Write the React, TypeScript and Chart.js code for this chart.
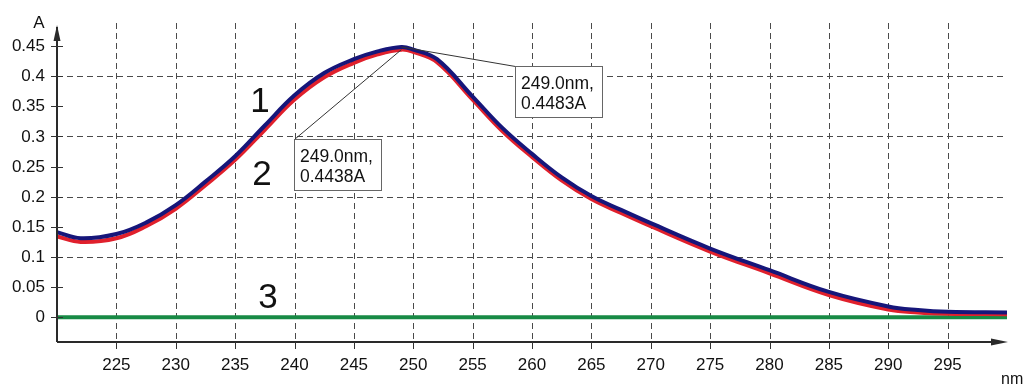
import React, { useEffect, useRef } from "react";
import { Chart, registerables } from "chart.js";

Chart.register(...registerables);

// ---- data ----
const wavelengths = [
  220, 222, 225, 227.5, 230, 232.5, 235, 237.5, 240, 242.5, 245, 247, 249, 250,
  252, 255, 257.5, 260, 262.5, 265, 267.5, 270, 275, 280, 285, 290, 292.5, 295, 300,
];
const curve1 = [
  0.141, 0.131, 0.138, 0.157, 0.186, 0.225, 0.267, 0.318, 0.368, 0.405, 0.428, 0.441, 0.4483, 0.444,
  0.428, 0.366, 0.314, 0.271, 0.232, 0.201, 0.178, 0.156, 0.114, 0.078, 0.042, 0.018, 0.012, 0.009, 0.008,
];
const curve2 = [
  0.134, 0.125, 0.131, 0.151, 0.18, 0.219, 0.261, 0.311, 0.361, 0.398, 0.422, 0.436, 0.4438, 0.44,
  0.423, 0.361, 0.309, 0.266, 0.227, 0.196, 0.173, 0.151, 0.109, 0.073, 0.037, 0.013, 0.008, 0.006, 0.005,
];
const curve3Wavelengths = [220, 300];
const curve3 = [0, 0];

const xTicks = [225, 230, 235, 240, 245, 250, 255, 260, 265, 270, 275, 280, 285, 290, 295];
const yTicks = [0, 0.05, 0.1, 0.15, 0.2, 0.25, 0.3, 0.35, 0.4, 0.45];
const yGridValues = [0.1, 0.2, 0.3, 0.4];

const peakWavelengths = [249.0, 249.0];
const peakValues = [0.4483, 0.4438];
const peakTexts = [
  ["249.0nm,", "0.4483A"],
  ["249.0nm,", "0.4438A"],
];
const curveNames = ["1", "2", "3"];

// ---- style / layout ----
const FONT = '"Liberation Sans", Arial, Helvetica, sans-serif';
const calloutBoxes = [
  { left: 515, top: 66 },
  { left: 294, top: 139 },
];
const nameSpots = [
  { x: 260, y: 112 },
  { x: 262, y: 185 },
  { x: 268, y: 308 },
];

const toPoints = (xs: number[], ys: number[]) => xs.map((x, i) => ({ x, y: ys[i] }));

const decorPlugin = {
  id: "decor",
  beforeDatasetsDraw(chart: any) {
    const { ctx, chartArea } = chart;
    const x = chart.scales.x;
    const y = chart.scales.y;
    ctx.save();
    ctx.strokeStyle = "#4a4a4a";
    ctx.lineWidth = 1;
    ctx.setLineDash([6, 4]);
    xTicks.forEach((v) => {
      const px = Math.round(x.getPixelForValue(v)) + 0.5;
      ctx.beginPath();
      ctx.moveTo(px, chartArea.top);
      ctx.lineTo(px, chartArea.bottom);
      ctx.stroke();
    });
    yGridValues.forEach((v) => {
      const py = Math.round(y.getPixelForValue(v)) + 0.5;
      ctx.beginPath();
      ctx.moveTo(chartArea.left, py);
      ctx.lineTo(chartArea.right, py);
      ctx.stroke();
    });
    ctx.restore();
  },
  afterDatasetsDraw(chart: any) {
    const { ctx, chartArea } = chart;
    const x = chart.scales.x;
    const y = chart.scales.y;
    const axX = chartArea.left;
    const axY = chartArea.bottom;
    ctx.save();
    ctx.setLineDash([]);
    ctx.strokeStyle = "#2a2a2a";
    ctx.fillStyle = "#2a2a2a";
    ctx.lineWidth = 2;
    // y axis
    ctx.beginPath();
    ctx.moveTo(axX, axY);
    ctx.lineTo(axX, chartArea.top + 4);
    ctx.stroke();
    ctx.beginPath();
    ctx.moveTo(axX, chartArea.top + 2);
    ctx.lineTo(axX - 3.5, chartArea.top + 18);
    ctx.lineTo(axX + 3.5, chartArea.top + 18);
    ctx.closePath();
    ctx.fill();
    // x axis
    ctx.beginPath();
    ctx.moveTo(axX, axY);
    ctx.lineTo(chartArea.right - 4, axY);
    ctx.stroke();
    ctx.beginPath();
    ctx.moveTo(chartArea.right + 1, axY);
    ctx.lineTo(chartArea.right - 16, axY - 3.5);
    ctx.lineTo(chartArea.right - 16, axY + 3.5);
    ctx.closePath();
    ctx.fill();

    // tick marks
    ctx.lineWidth = 1;
    ctx.strokeStyle = "#333";
    yTicks.forEach((v) => {
      const py = Math.round(y.getPixelForValue(v)) + 0.5;
      ctx.beginPath();
      ctx.moveTo(axX - 6, py);
      ctx.lineTo(axX + 6, py);
      ctx.stroke();
    });
    xTicks.forEach((v) => {
      const px = Math.round(x.getPixelForValue(v)) + 0.5;
      ctx.beginPath();
      ctx.moveTo(px, axY);
      ctx.lineTo(px, axY + 7);
      ctx.stroke();
    });

    // tick labels
    ctx.fillStyle = "#111";
    ctx.font = `17px ${FONT}`;
    ctx.textAlign = "right";
    ctx.textBaseline = "middle";
    yTicks.forEach((v) => {
      ctx.fillText(String(v), 45, y.getPixelForValue(v) + 0.5);
    });
    ctx.textAlign = "center";
    ctx.textBaseline = "alphabetic";
    xTicks.forEach((v) => {
      ctx.fillText(String(v), x.getPixelForValue(v), 370);
    });

    // axis titles
    ctx.font = `17px ${FONT}`;
    ctx.textAlign = "center";
    ctx.fillText("A", 39, 28);
    ctx.textAlign = "left";
    ctx.font = `16px ${FONT}`;
    ctx.fillText("nm", 1001, 384);

    // curve numbers
    ctx.font = `35px ${FONT}`;
    ctx.textAlign = "center";
    curveNames.forEach((n, i) => {
      ctx.fillText(n, nameSpots[i].x, nameSpots[i].y);
    });

    // callouts
    peakWavelengths.forEach((wl, i) => {
      const px = x.getPixelForValue(wl);
      const py = y.getPixelForValue(peakValues[i]);
      const b = calloutBoxes[i];
      const w = 87;
      const h = 51;
      ctx.strokeStyle = "#333";
      ctx.lineWidth = 1;
      ctx.beginPath();
      ctx.moveTo(px, py);
      ctx.lineTo(b.left + 0.5, b.top + 0.5);
      ctx.stroke();
      ctx.fillStyle = "#ffffff";
      ctx.fillRect(b.left + 0.5, b.top + 0.5, w, h);
      ctx.strokeStyle = "#666";
      ctx.strokeRect(b.left + 0.5, b.top + 0.5, w, h);
      ctx.fillStyle = "#111";
      ctx.font = `17.5px ${FONT}`;
      ctx.textAlign = "left";
      ctx.fillText(peakTexts[i][0], b.left + 6, b.top + 23);
      ctx.fillText(peakTexts[i][1], b.left + 6, b.top + 43);
    });
    ctx.restore();
  },
};

export default function App() {
  const canvasRef = useRef<HTMLCanvasElement | null>(null);

  useEffect(() => {
    document.body.style.margin = "0";
    const canvas = canvasRef.current;
    if (!canvas) return;
    const chart = new Chart(canvas, {
      type: "line",
      data: {
        datasets: [
          {
            label: "1",
            data: toPoints(wavelengths, curve1),
            borderColor: "#16167a",
            borderWidth: 4,
            pointRadius: 0,
            tension: 0.4,
            fill: false,
          },
          {
            label: "2",
            data: toPoints(wavelengths, curve2),
            borderColor: "#e0202c",
            borderWidth: 4,
            pointRadius: 0,
            tension: 0.4,
            fill: false,
          },
          {
            label: "3",
            data: toPoints(curve3Wavelengths, curve3),
            borderColor: "#178a45",
            borderWidth: 4,
            pointRadius: 0,
            fill: false,
          },
        ],
      },
      options: {
        animation: false,
        responsive: false,
        maintainAspectRatio: false,
        layout: { padding: { left: 57, right: 18, top: 23, bottom: 43 } },
        plugins: {
          legend: { display: false },
          tooltip: { enabled: false },
        },
        events: [],
        scales: {
          x: { type: "linear", min: 220, max: 300, display: false },
          y: { type: "linear", min: -0.041, max: 0.488, display: false },
        },
      },
      plugins: [decorPlugin],
    } as any);
    return () => chart.destroy();
  }, []);

  return (
    <div style={{ position: "absolute", left: 0, top: 0, width: 1025, height: 385, background: "#fff" }}>
      <canvas ref={canvasRef} width={1025} height={385} style={{ width: 1025, height: 385, display: "block" }} />
    </div>
  );
}
